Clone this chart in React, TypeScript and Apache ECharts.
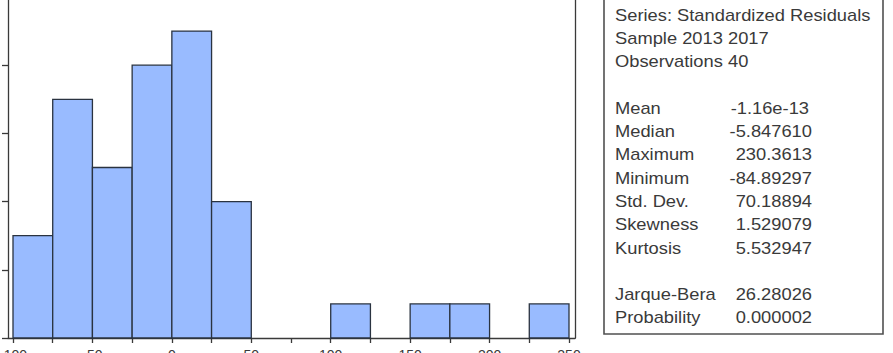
import React, { useEffect, useRef } from "react";
import * as echarts from "echarts";

// Histogram bins (start values), bin width and counts
const binStarts = [-100, -75, -50, -25, 0, 25, 100, 150, 175, 225];
const binWidth = 25;
const counts = [3, 7, 5, 8, 9, 4, 1, 1, 1, 1];

// Axis settings
const xMin = -100;
const xMax = 250;
const xStep = 50;
const yMin = 0;
const yMax = 10;
const yStep = 2;

// Statistics panel text
const headerLines = ["Series: Standardized Residuals", "Sample 2013 2017", "Observations 40"];
const statNames = ["Mean", "Median", "Maximum", "Minimum", "Std. Dev.", "Skewness", "Kurtosis"];
const statValues = ["-1.16e-13", "-5.847610", "230.3613", "-84.89297", "70.18894", "1.529079", "5.532947"];
const testNames = ["Jarque-Bera", "Probability"];
const testValues = ["26.28026", "0.000002"];

const W = 893;
const H = 353;
const OX = 60;
const OY = 40;
const FONT = "'Liberation Sans', Arial, sans-serif";
const TXT = "#3a3a3a";
const SX = 1.145;

export default function App() {
  const ref = useRef<HTMLDivElement>(null);

  useEffect(() => {
    if (!ref.current) return;
    const chart = echarts.init(ref.current, null, { renderer: "svg" });
    const bins = binStarts.map((s, i) => [s, s + binWidth, counts[i]]);

    const lineY = (i: number) => 15 + 23.3 * i + OY;
    const graphics: any[] = [];
    graphics.push({
      type: "rect",
      shape: { x: 604 + OX, y: -10 + OY, width: 279, height: 344 },
      style: { fill: "#ffffff", stroke: "#505050", lineWidth: 1.6 },
      z: 10,
    });
    const addText = (t: string, row: number, x: number, align: string) => {
      graphics.push({
        type: "text",
        x: x + OX,
        y: lineY(row),
        scaleX: SX,
        z: 11,
        style: {
          text: t,
          fontSize: 16,
          fontFamily: FONT,
          fill: TXT,
          align,
          verticalAlign: "middle",
        },
      });
    };
    headerLines.forEach((t, i) => addText(t, i, 615, "left"));
    statNames.forEach((t, i) => {
      addText(t, 4 + i, 615, "left");
      addText(statValues[i], 4 + i, i === 0 ? 809 : 812, "right");
    });
    testNames.forEach((t, i) => {
      addText(t, 12 + i, 615, "left");
      addText(testValues[i], 12 + i, 812, "right");
    });

    const gridTop = -3 + OY;
    const gridH = 341;

    chart.setOption({
      animation: false,
      grid: [
        { left: 8 + OX, top: gridTop, width: 567, height: gridH },
        { left: 13 + OX, top: gridTop, width: 556, height: gridH },
      ],
      xAxis: [
        {
          gridIndex: 0,
          type: "value",
          min: 0,
          max: 1,
          axisLine: { show: true, lineStyle: { color: "#3a3a3a", width: 1.3 } },
          axisTick: { show: false },
          axisLabel: { show: false },
          splitLine: { show: false },
        },
        {
          gridIndex: 1,
          type: "value",
          min: xMin,
          max: xMax,
          interval: xStep,
          axisLine: { show: false },
          axisTick: { show: true, length: 5, lineStyle: { color: "#3a3a3a", width: 1.3 } },
          minorTick: { show: true, splitNumber: 2, length: 5, lineStyle: { color: "#3a3a3a", width: 1.3 } },
          axisLabel: { show: true, fontSize: 14, fontFamily: FONT, color: TXT, margin: 10 },
          splitLine: { show: false },
          minorSplitLine: { show: false },
        },
      ],
      yAxis: [
        {
          gridIndex: 0,
          type: "value",
          min: yMin,
          max: yMax,
          interval: yStep,
          axisLine: { show: true, lineStyle: { color: "#3a3a3a", width: 1.3 } },
          axisTick: { show: true, length: 6, lineStyle: { color: "#3a3a3a", width: 1.3 } },
          axisLabel: { show: false },
          splitLine: { show: false },
        },
        {
          gridIndex: 0,
          type: "value",
          position: "right",
          min: yMin,
          max: yMax,
          interval: yStep,
          axisLine: { show: true, lineStyle: { color: "#3a3a3a", width: 1.3 } },
          axisTick: { show: false },
          axisLabel: { show: false },
          splitLine: { show: false },
        },
        {
          gridIndex: 1,
          type: "value",
          min: yMin,
          max: yMax,
          show: false,
        },
      ],
      series: [
        {
          type: "custom",
          xAxisIndex: 1,
          yAxisIndex: 2,
          data: bins,
          encode: { x: [0, 1], y: 2 },
          renderItem: (_params: any, api: any) => {
            const p0 = api.coord([api.value(0), api.value(2)]);
            const p1 = api.coord([api.value(1), 0]);
            return {
              type: "rect",
              shape: { x: p0[0], y: p0[1], width: p1[0] - p0[0], height: p1[1] - p0[1] },
              style: { fill: "#99bbff", stroke: "#2a3340", lineWidth: 1.3 },
            };
          },
        },
      ],
      graphic: graphics,
    });

    return () => chart.dispose();
  }, []);

  return (
    <div
      style={{
        position: "fixed",
        left: 0,
        top: 0,
        width: W,
        height: H,
        overflow: "hidden",
        background: "#ffffff",
      }}
    >
      <div
        ref={ref}
        style={{ position: "absolute", left: -OX, top: -OY, width: W + OX, height: H + OY + 40 }}
      />
    </div>
  );
}
